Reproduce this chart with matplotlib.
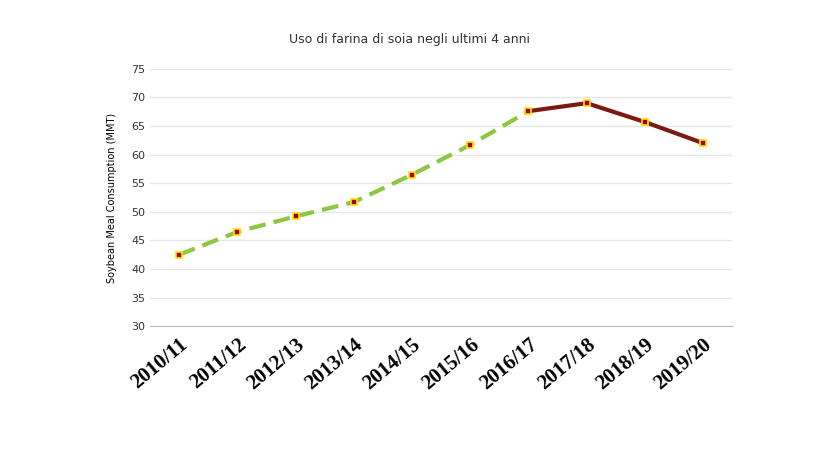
import matplotlib.pyplot as plt

seasons = ["2010/11", "2011/12", "2012/13", "2013/14", "2014/15",
           "2015/16", "2016/17", "2017/18", "2018/19", "2019/20"]
consumption = [42.5, 46.5, 49.2, 51.7, 56.5, 61.7, 67.6, 69.0, 65.7, 62.0]
split = 6  # from 2016/17 the line becomes solid

fig = plt.figure(figsize=(8.2, 4.62), dpi=100)
ax = fig.add_axes([0.183, 0.294, 0.71, 0.557])
x = list(range(len(seasons)))

ax.plot(x[:split + 1], consumption[:split + 1], color="#8dc63f", lw=3, ls=(0, (4, 2)))
ax.plot(x[split:], consumption[split:], color="#7b1a10", lw=3)
ax.plot(x, consumption, ls="none", marker="s", ms=5, mfc="#a30000", mec="#ffe000", mew=1.2)

ax.set_xlim(-0.5, len(seasons) - 0.5)
ax.set_ylim(30, 75)
ax.set_yticks(range(30, 76, 5))
ax.set_xticks(x)
ax.set_xticklabels(seasons, rotation=40, ha="right", rotation_mode="anchor",
                   family="Liberation Serif", fontsize=15, fontweight="bold")
ax.tick_params(axis="y", labelsize=8, length=0, colors="#333333")
ax.tick_params(axis="x", length=0, pad=6)
ax.grid(axis="y", color="#e6e6e6", lw=1)
ax.set_axisbelow(True)
for s in ["left", "right", "top"]:
    ax.spines[s].set_visible(False)
ax.spines["bottom"].set_color("#bbbbbb")
ax.set_ylabel("Soybean Meal Consumption (MMT)", fontsize=7, labelpad=10)
fig.text(0.5, 0.908, "Uso di farina di soia negli ultimi 4 anni", ha="center", fontsize=9, color="#333333")

fig.savefig("out.png")
